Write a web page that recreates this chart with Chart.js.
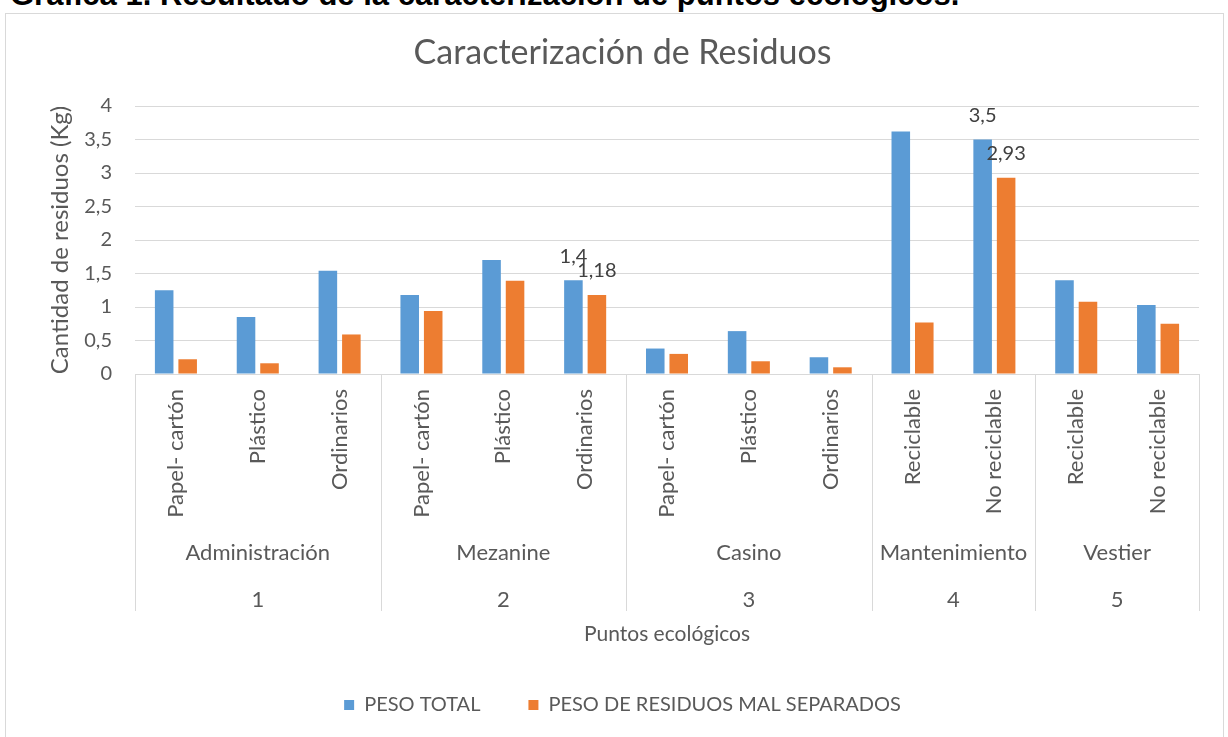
<!DOCTYPE html>
<html lang="es">
<head>
<meta charset="utf-8">
<title>Caracterización de Residuos</title>
<script src="https://cdn.jsdelivr.net/npm/chart.js@4.4.1/dist/chart.umd.min.js"></script>
<style>
    html, body { margin: 0; padding: 0; background: #ffffff; overflow: hidden; }
    #encabezado {
        position: absolute; left: 10px; top: -21px;
        font-family: "Liberation Sans", Arial, sans-serif; font-weight: bold;
        font-size: 31px; line-height: 31px; color: #000000; white-space: nowrap; z-index: 2;
    }
    #caja {
        position: absolute; left: 5px; top: 13px; width: 1217px; height: 740px;
        border: 1px solid #d9d9d9; background: #ffffff;
    }
</style>
</head>
<body>
<div id="encabezado">Grafica 1. Resultado de la caracterización de puntos ecológicos.</div>
<div id="caja"><canvas id="grafico" width="1217" height="723"></canvas></div>
<script>
"use strict"

// --- Datos del gráfico ---
const categorias = ["Papel- cartón", "Plástico", "Ordinarios",
                    "Papel- cartón", "Plástico", "Ordinarios",
                    "Papel- cartón", "Plástico", "Ordinarios",
                    "Reciclable", "No reciclable",
                    "Reciclable", "No reciclable"];
const pesoTotal = [1.25, 0.85, 1.54, 1.18, 1.70, 1.40, 0.38, 0.64, 0.25, 3.62, 3.5, 1.40, 1.03];
const pesoMalSeparados = [0.22, 0.16, 0.59, 0.94, 1.39, 1.18, 0.30, 0.19, 0.10, 0.77, 2.93, 1.08, 0.75];

const grupos = ["Administración", "Mezanine", "Casino", "Mantenimiento", "Vestier"];
const numerosGrupo = ["1", "2", "3", "4", "5"];
const tamanoGrupo = [3, 3, 3, 2, 2];

const ticksY = [0, 0.5, 1, 1.5, 2, 2.5, 3, 3.5, 4];
const etiquetasVisibles = [5, 10]; // solo estas barras llevan su valor encima

const FUENTE = "Lato, 'Open Sans', sans-serif";
const GRIS = "#595959";
const LINEA = "#d9d9d9";

function conComa(v) {
    return String(v).replace(".", ",");
}

// etiquetas de grupo (niveles 2 y 3 del eje X) con sus separadores
const gruposPlugin = {
    id: "grupos",
    afterDraw(chart) {
        let ctx = chart.ctx;
        let x = chart.scales.x;
        let paso = x.getPixelForTick(1) - x.getPixelForTick(0);
        let arriba = x.top;

        ctx.save();
        ctx.strokeStyle = LINEA;
        ctx.lineWidth = 1;
        ctx.fillStyle = GRIS;
        ctx.textAlign = "center";
        ctx.textBaseline = "middle";
        ctx.font = "22px " + FUENTE;

        let inicio = 0;
        for (let g = 0; g <= grupos.length; g++) {
            let borde = (g < grupos.length)
                ? x.getPixelForTick(inicio) - paso / 2
                : x.getPixelForTick(categorias.length - 1) + paso / 2;
            ctx.beginPath();
            ctx.moveTo(Math.round(borde) + 0.5, arriba);
            ctx.lineTo(Math.round(borde) + 0.5, arriba + 237);
            ctx.stroke();

            if (g < grupos.length) {
                let fin = inicio + tamanoGrupo[g] - 1;
                let centro = (x.getPixelForTick(inicio) + x.getPixelForTick(fin)) / 2;
                ctx.fillText(grupos[g], centro, arriba + 179);
                ctx.fillText(numerosGrupo[g], centro, arriba + 226);
                inicio = fin + 1;
            }
        }
        ctx.restore();
    }
};

// valores encima de algunas barras
const etiquetasPlugin = {
    id: "etiquetas",
    afterDatasetsDraw(chart) {
        let ctx = chart.ctx;
        ctx.save();
        ctx.fillStyle = "#404040";
        ctx.font = "20px " + FUENTE;
        ctx.textAlign = "center";
        ctx.textBaseline = "middle";
        chart.data.datasets.forEach((ds, d) => {
            let meta = chart.getDatasetMeta(d);
            etiquetasVisibles.forEach(i => {
                let barra = meta.data[i];
                ctx.fillText(conComa(ds.data[i]), barra.x, barra.y - 24);
            });
        });
        ctx.restore();
    }
};

let chartOptions = {
    type: "bar",
    data: {
        labels: categorias,
        datasets: [{
            label: "PESO TOTAL",
            data: pesoTotal,
            backgroundColor: "#5b9bd5",
            borderWidth: 0,
            categoryPercentage: 0.574,
            barPercentage: 0.79
        }, {
            label: "PESO DE RESIDUOS MAL SEPARADOS",
            data: pesoMalSeparados,
            backgroundColor: "#ed7d31",
            borderWidth: 0,
            categoryPercentage: 0.574,
            barPercentage: 0.79
        }]
    },
    options: {
        responsive: false,
        animation: false,
        devicePixelRatio: 1,
        layout: { padding: { left: 40, right: 24, top: 0, bottom: 12 } },
        plugins: {
            title: {
                display: true,
                text: "Caracterización de Residuos",
                color: GRIS,
                font: { family: FUENTE, size: 34, weight: "normal" },
                padding: { top: 18.6, bottom: 32.6 }
            },
            legend: {
                position: "bottom",
                labels: {
                    boxWidth: 10,
                    boxHeight: 10,
                    padding: 48,
                    color: GRIS,
                    font: { family: FUENTE, size: 20 }
                }
            },
            tooltip: { enabled: false }
        },
        scales: {
            x: {
                offset: true,
                grid: { display: false, drawTicks: false },
                border: { display: true, color: LINEA },
                ticks: {
                    autoSkip: false,
                    maxRotation: 90,
                    minRotation: 90,
                    padding: 15,
                    color: GRIS,
                    font: { family: FUENTE, size: 22 }
                },
                title: {
                    display: true,
                    text: "Puntos ecológicos",
                    color: GRIS,
                    font: { family: FUENTE, size: 21 },
                    padding: { top: 0, bottom: 0 }
                },
                afterFit: s => { s.height = 273; }
            },
            y: {
                min: 0,
                max: 4,
                afterBuildTicks: s => { s.ticks = ticksY.map(v => ({ value: v })); },
                grid: { color: LINEA, drawTicks: false },
                border: { display: false },
                ticks: {
                    padding: 23,
                    color: GRIS,
                    font: { family: FUENTE, size: 20 },
                    callback: v => conComa(v)
                },
                title: {
                    display: true,
                    text: "Cantidad de residuos (Kg)",
                    color: GRIS,
                    font: { family: FUENTE, size: 24 },
                    padding: 0
                },
                afterFit: s => { s.width = 89; }
            }
        }
    },
    plugins: [gruposPlugin, etiquetasPlugin]
};

let grafico = new Chart(document.getElementById("grafico"), chartOptions);
</script>
</body>
</html>
